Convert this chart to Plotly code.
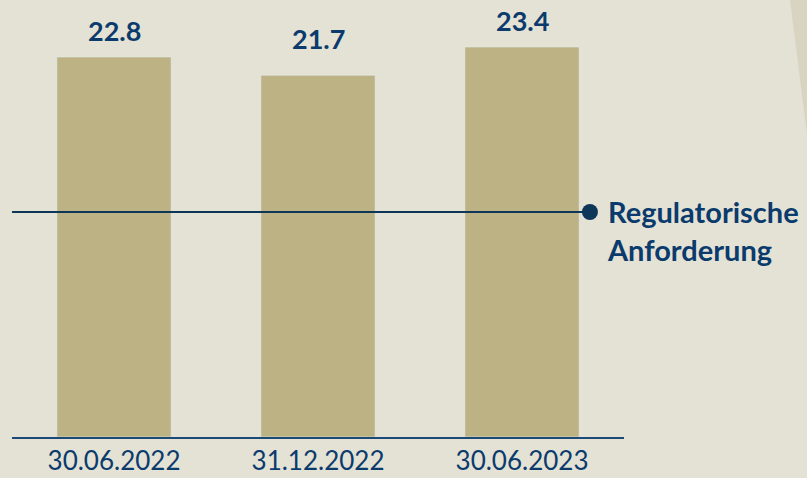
import plotly.graph_objects as go

categories = ["30.06.2022", "31.12.2022", "30.06.2023"]
values = [22.8, 21.7, 23.4]
requirement = 13.5
requirement_label = "Regulatorische<br>Anforderung"

W, H = 807, 478
L, R, T, B = 12, 183, 0, 41

navy_text = "#0b3b6c"
navy_line = "#0d3658"
bar_color = "#bcb283"
bg = "#e4e2d5"

label_offsets = [8, 18, 8]  # pixel gap of value labels above bars

x_pos = list(range(len(categories)))
fig = go.Figure()
fig.add_trace(go.Bar(
    x=x_pos, y=values, marker_color=bar_color, width=0.56, hoverinfo="skip",
))
for xi, v, off in zip(x_pos, values, label_offsets):
    fig.add_annotation(
        x=xi, y=v, xref="x", yref="y", text=f"{v:.1f}", showarrow=False,
        yanchor="bottom", yshift=off,
        font=dict(family="Lato", size=27, color=navy_text, weight="bold"),
    )

line_end = 2.333
fig.add_trace(go.Scatter(
    x=[-0.5, line_end], y=[requirement, requirement], mode="lines",
    line=dict(color=navy_line, width=2), hoverinfo="skip", cliponaxis=False,
))
fig.add_trace(go.Scatter(
    x=[line_end], y=[requirement], mode="markers",
    marker=dict(color=navy_line, size=16), hoverinfo="skip", cliponaxis=False,
))
fig.add_annotation(
    x=line_end, y=requirement, xref="x", yref="y", text=requirement_label,
    showarrow=False, xanchor="left", yanchor="top", align="left", xshift=15, yshift=20,
    font=dict(family="Lato", size=29, color=navy_text, weight="bold"),
)

# decorative background wedge at top right
fig.add_shape(type="path", xref="paper", yref="paper",
              path=f"M {(790-L)/(W-L-R)} 1 L {(W-L)/(W-L-R)} 1 L {(W-L)/(W-L-R)} {(H-B-135)/(H-B-T)} Z",
              fillcolor="#d9d4c1", line_width=0, layer="below")

fig.update_layout(
    width=W, height=H, margin=dict(l=L, r=R, t=T, b=B),
    paper_bgcolor=bg, plot_bgcolor=bg, showlegend=False, bargap=0.44,
    xaxis=dict(range=[-0.5, 2.5], tickvals=x_pos, ticktext=categories,
               showgrid=False, zeroline=False, showline=True, linecolor="#1b4a78", linewidth=2,
               ticks="", tickfont=dict(family="Lato", size=26, color=navy_text)),
    yaxis=dict(range=[0, 26.22], visible=False, showgrid=False, zeroline=False),
)
fig.write_html("out.html", config={"displayModeBar": False},
               post_script="document.body.style.margin='0';document.body.style.overflow='hidden';")
